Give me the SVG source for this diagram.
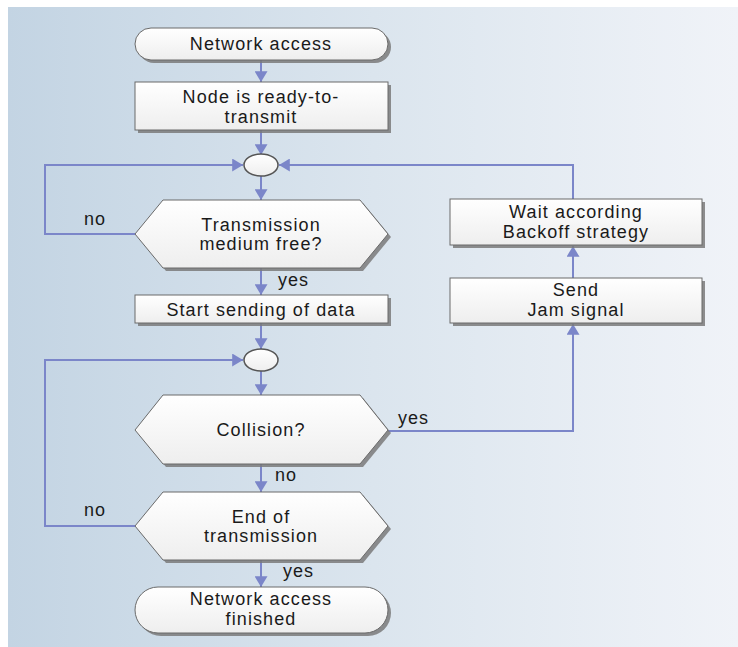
<svg xmlns="http://www.w3.org/2000/svg" width="738" height="647" viewBox="0 0 738 647">
<defs>
<linearGradient id="bg" x1="0" y1="0" x2="1" y2="0">
<stop offset="0" stop-color="#c3d4e3"/>
<stop offset="0.5" stop-color="#dbe5ee"/>
<stop offset="1" stop-color="#f0f3f8"/>
</linearGradient>
<linearGradient id="fill" x1="0" y1="0" x2="0" y2="1">
<stop offset="0" stop-color="#ffffff"/>
<stop offset="1" stop-color="#eeeeee"/>
</linearGradient>
<marker id="arr" viewBox="0 0 10 12" refX="10" refY="6" markerWidth="11" markerHeight="13" markerUnits="userSpaceOnUse" orient="auto">
<path d="M0,0 L10,6 L0,12 z" fill="#7b86c9"/>
</marker>
<style>
.shape{fill:url(#fill);stroke:#6a6a6a;stroke-width:1}
.shadow{fill:#7a7a7a;opacity:0.85}
.t{font-family:"Liberation Sans",Arial,sans-serif;font-size:18px;letter-spacing:1.1px;fill:#1a1a1a;text-anchor:middle}
.l{font-family:"Liberation Sans",Arial,sans-serif;font-size:18px;letter-spacing:1px;fill:#1a1a1a}
.c{fill:none;stroke:#7b86c9;stroke-width:2}
</style>
</defs>
<rect x="0" y="0" width="738" height="647" fill="#ffffff"/>
<rect x="8" y="7" width="730" height="640" fill="url(#bg)"/>

<g id="connectors">
<path class="c" d="M261,60 V82" marker-end="url(#arr)"/>
<path class="c" d="M261,130 V155" marker-end="url(#arr)"/>
<path class="c" d="M261,176 V200" marker-end="url(#arr)"/>
<path class="c" d="M135,234 H45 V165 H243" marker-end="url(#arr)"/>
<path class="c" d="M261,268 V295" marker-end="url(#arr)"/>
<path class="c" d="M261,323 V349" marker-end="url(#arr)"/>
<path class="c" d="M261,371 V395" marker-end="url(#arr)"/>
<path class="c" d="M261,464 V492" marker-end="url(#arr)"/>
<path class="c" d="M135,526 H45 V360 H243" marker-end="url(#arr)"/>
<path class="c" d="M261,560 V587" marker-end="url(#arr)"/>
<path class="c" d="M388,431 H573 V324" marker-end="url(#arr)"/>
<path class="c" d="M573,278 V246" marker-end="url(#arr)"/>
<path class="c" d="M573,199 V165 H279" marker-end="url(#arr)"/>
<text class="l" x="84" y="225">no</text>
<text class="l" x="278" y="286">yes</text>
<text class="l" x="398" y="424">yes</text>
<text class="l" x="275" y="481">no</text>
<text class="l" x="84" y="516">no</text>
<text class="l" x="283" y="577">yes</text>
</g>

<g id="start">
<rect class="shadow" x="138" y="31" width="253" height="32" rx="16"/>
<rect class="shape" x="135" y="28" width="253" height="32" rx="16"/>
<text class="t" x="261" y="50">Network access</text>
</g>

<g id="ready">
<rect class="shadow" x="138" y="85" width="253" height="48"/>
<rect class="shape" x="135" y="82" width="253" height="48"/>
<text class="t" x="261" y="103">Node is ready-to-</text>
<text class="t" x="261" y="123">transmit</text>
</g>

<g id="join1">
<ellipse cx="261" cy="165" rx="17" ry="11" fill="url(#fill)" stroke="#555" stroke-width="1.5"/>
</g>

<g id="medium-free">
<polygon class="shadow" points="138,237 166,203 363,203 391,237 363,271 166,271"/>
<polygon class="shape" points="135,234 163,200 360,200 388,234 360,268 163,268"/>
<text class="t" x="261" y="231">Transmission</text>
<text class="t" x="261" y="250">medium free?</text>
</g>

<g id="start-sending">
<rect class="shadow" x="138" y="298" width="253" height="28"/>
<rect class="shape" x="135" y="295" width="253" height="28"/>
<text class="t" x="261" y="316">Start sending of data</text>
</g>

<g id="join2">
<ellipse cx="261" cy="360" rx="17" ry="11" fill="url(#fill)" stroke="#555" stroke-width="1.5"/>
</g>

<g id="collision">
<polygon class="shadow" points="138,433 166,398 363,398 391,433 363,467 166,467"/>
<polygon class="shape" points="135,430 163,395 360,395 388,430 360,464 163,464"/>
<text class="t" x="261" y="436">Collision?</text>
</g>

<g id="end-of-transmission">
<polygon class="shadow" points="138,529 166,495 363,495 391,529 363,563 166,563"/>
<polygon class="shape" points="135,526 163,492 360,492 388,526 360,560 163,560"/>
<text class="t" x="261" y="523">End of</text>
<text class="t" x="261" y="542">transmission</text>
</g>

<g id="finished">
<rect class="shadow" x="138" y="590" width="253" height="46" rx="23"/>
<rect class="shape" x="135" y="587" width="253" height="46" rx="23"/>
<text class="t" x="261" y="605">Network access</text>
<text class="t" x="261" y="625">finished</text>
</g>

<g id="backoff">
<rect class="shadow" x="453" y="202" width="252" height="46"/>
<rect class="shape" x="450" y="199" width="252" height="46"/>
<text class="t" x="576" y="218">Wait according</text>
<text class="t" x="576" y="238">Backoff strategy</text>
</g>

<g id="jam">
<rect class="shadow" x="453" y="281" width="252" height="45"/>
<rect class="shape" x="450" y="278" width="252" height="45"/>
<text class="t" x="576" y="296">Send</text>
<text class="t" x="576" y="316">Jam signal</text>
</g>
</svg>
